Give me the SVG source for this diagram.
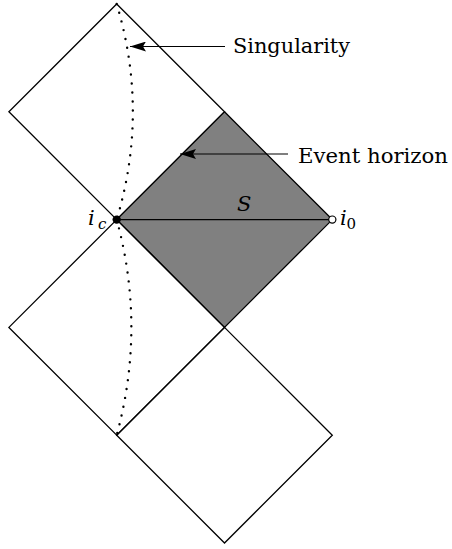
<svg xmlns="http://www.w3.org/2000/svg" width="452" height="549" viewBox="0 0 452 549">
<style>
.edge{fill:none;stroke:#000;stroke-width:1.3;stroke-linejoin:miter}
.dot{fill:none;stroke:#000;stroke-width:2.4;stroke-linecap:round;stroke-dasharray:0 9}
.arr{stroke:#000;stroke-width:1.2;fill:none}
text{font-family:"DejaVu Serif","Liberation Serif",serif}
</style>
<defs>
<marker id="ah" markerWidth="16" markerHeight="10" refX="16" refY="5" orient="auto" markerUnits="userSpaceOnUse">
<path d="M0,0 L16,5 L0,10 L3,5 Z" fill="#000"/>
</marker>
</defs>
<rect width="452" height="549" fill="#fff"/>
<g id="region-top">
<path class="edge" d="M116.7,4 L224.5,111.8 L116.7,219.6 L8.9,111.8 Z"/>
</g>
<g id="region-exterior">
<path d="M224.5,111.8 L332.3,219.6 L224.5,327.4 L116.7,219.6 Z" fill="#808080" stroke="#000" stroke-width="1.3"/>
</g>
<g id="region-left">
<path class="edge" d="M116.7,219.6 L224.5,327.4 L116.7,435.2 L8.9,327.4 Z"/>
</g>
<g id="region-bottom">
<path class="edge" d="M224.5,327.4 L332.3,435.2 L224.5,543 L116.7,435.2 Z"/>
</g>
<g id="singularity-curve">
<path class="dot" d="M116.7,4 Q149,111.8 116.7,219.6"/>
<path class="dot" d="M116.7,219.6 Q146,327.4 116.7,435.2"/>
</g>
<g id="connectors">
<line class="arr" x1="225" y1="46.5" x2="130" y2="46.5" marker-end="url(#ah)"/>
<line class="arr" x1="288" y1="154" x2="180" y2="154" marker-end="url(#ah)"/>
<line class="edge" x1="116.7" y1="219.6" x2="332.3" y2="219.6"/>
</g>
<g fill="#000">
<g id="point-ic">
<circle cx="116.7" cy="219.6" r="4.2" fill="#000"/>
<text x="88" y="225" font-size="21" font-style="italic">i</text>
<text x="98" y="229" font-size="15" font-style="italic">c</text>
</g>
<g id="point-i0">
<circle cx="332.3" cy="219.6" r="3.6" fill="#fff" stroke="#000" stroke-width="1.2"/>
<text x="340" y="225" font-size="21" font-style="italic">i</text>
<text x="346.5" y="229" font-size="15">0</text>
</g>
<g id="label-S">
<text x="237" y="211" font-size="21" font-style="italic">S</text>
</g>
<g id="label-singularity">
<text x="233" y="53" font-size="21" textLength="117" lengthAdjust="spacingAndGlyphs">Singularity</text>
</g>
<g id="label-event-horizon">
<text x="298" y="163" font-size="21" textLength="150" lengthAdjust="spacingAndGlyphs">Event horizon</text>
</g>
</g>
</svg>
